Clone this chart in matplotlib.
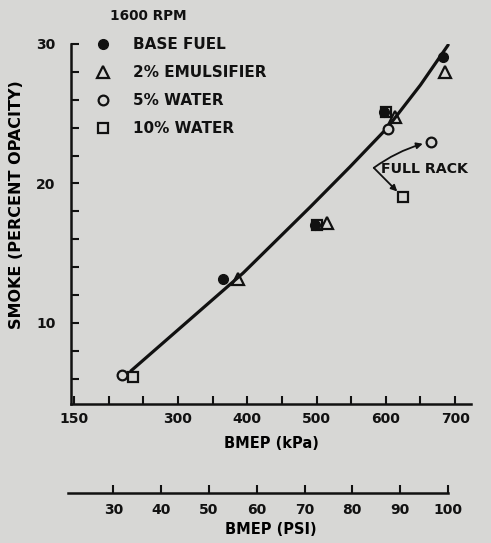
import matplotlib
matplotlib.use("Agg")
import matplotlib.pyplot as plt
from matplotlib.lines import Line2D

# --- data (BMEP in kPa, smoke in % opacity) ---
base_kpa = [365, 498, 598, 683]
base_smoke = [13.15, 17.0, 25.1, 29.1]

emul_kpa = [387, 515, 613, 686]
emul_smoke = [13.15, 17.2, 24.8, 28.0]

water5_kpa = [219, 603, 665]
water5_smoke = [6.27, 23.9, 23.0]

water10_kpa = [235, 500, 600, 625]
water10_smoke = [6.13, 17.0, 25.1, 19.0]

# faired curve through the data
curve_kpa = [232, 394, 491, 548, 602, 650, 690]
curve_smoke = [6.56, 13.58, 18.32, 21.18, 23.98, 27.06, 29.93]

# full rack points (circle, square) the arrows point to
rack_kpa = [665, 625]
rack_smoke = [23.0, 19.0]

kpa_ticks = [150, 200, 250, 300, 350, 400, 450, 500, 550, 600, 650, 700]
kpa_labels = ["150", "", "", "300", "", "400", "", "500", "", "600", "", "700"]
psi_ticks = [30, 40, 50, 60, 70, 80, 90, 100]
smoke_major = [10, 20, 30]
smoke_minor = [6, 8, 12, 14, 16, 18, 22, 24, 26, 28]

KPA_PER_PSI = 6.895
BG = "#d7d7d5"
INK = "#111111"

plt.rcParams['font.family'] = ['DejaVu Sans']
plt.rcParams['font.weight'] = 'bold'
plt.rcParams['text.color'] = INK

fig = plt.figure(figsize=(4.91, 5.43), dpi=100, facecolor=BG)
ax = fig.add_axes([0.1446, 0.256, 0.8147, 0.663])
ax.set_facecolor(BG)
ax.set_xlim(145.5, 723)
ax.set_ylim(4.19, 30)

for s in ('top', 'right'):
    ax.spines[s].set_visible(False)
for s in ('left', 'bottom'):
    ax.spines[s].set_linewidth(1.8)
    ax.spines[s].set_color(INK)

ax.set_xticks(kpa_ticks)
ax.set_xticklabels(kpa_labels)
ax.set_yticks(smoke_major)
ax.set_yticks(smoke_minor, minor=True)
ax.tick_params(axis='both', which='both', direction='in', length=5.5,
               width=1.5, color=INK, labelsize=10, labelcolor=INK)
ax.tick_params(axis='x', pad=6)
ax.tick_params(axis='y', which='both', pad=11)

ax.set_xlabel("BMEP (kPa)", fontsize=10.5, fontweight='bold', labelpad=7)
ax.set_ylabel("SMOKE (PERCENT OPACITY)", fontsize=11.5, fontweight='bold')
ax.yaxis.set_label_coords(-0.118, 0.553)

# curve and points
ax.plot(curve_kpa, curve_smoke, color=INK, lw=2.3, zorder=2,
        solid_joinstyle='round', solid_capstyle='round')
ms = 7.5
mew = 1.6
ax.plot(water10_kpa, water10_smoke, 's', ms=ms, mfc=BG, mec=INK, mew=mew, zorder=3)
ax.plot(base_kpa, base_smoke, 'o', ms=7, mfc=INK, mec=INK, zorder=4)
ax.plot(emul_kpa, emul_smoke, '^', ms=8.5, mfc='none', mec=INK, mew=mew, zorder=3)
ax.plot(water5_kpa, water5_smoke, 'o', ms=7, mfc=BG, mec=INK, mew=mew, zorder=3)

# full rack annotation
ax.text(0.775, 0.652, "FULL RACK", transform=ax.transAxes, fontsize=10.2,
        fontweight='bold', va='center', ha='left')
for (rx, ry), rad in zip(zip(rack_kpa, rack_smoke), (-0.1, 0.0)):
    ax.annotate("", xy=(rx, ry), xycoords='data',
                xytext=(0.757, 0.656), textcoords='axes fraction',
                arrowprops=dict(arrowstyle='-|>', color=INK, lw=1.3,
                                mutation_scale=9, shrinkA=0, shrinkB=6,
                                connectionstyle="arc3,rad=%s" % rad))

# legend
handles = [
    Line2D([], [], ls='none', marker='o', ms=7, mfc=INK, mec=INK),
    Line2D([], [], ls='none', marker='^', ms=8.5, mfc='none', mec=INK, mew=mew),
    Line2D([], [], ls='none', marker='o', ms=7, mfc='none', mec=INK, mew=mew),
    Line2D([], [], ls='none', marker='s', ms=7.5, mfc='none', mec=INK, mew=mew),
]
labels = ["BASE FUEL", "2% EMULSIFIER", "5% WATER", "10% WATER"]
fig.text(110 / 491, 1 - 16 / 543, "1600 RPM", fontsize=9.8, fontweight='bold',
         ha='left', va='center')
leg = fig.legend(handles, labels, loc='upper left',
                 bbox_to_anchor=(0.178, 0.946), frameon=False, fontsize=11,
                 handlelength=1.0, handletextpad=1.46,
                 labelspacing=0.85, borderpad=0)
for t in leg.get_texts():
    t.set_fontweight('bold')

# second scale in PSI
ax2 = fig.add_axes([0.1446, 0.0921, 0.8147, 0.05])
ax2.patch.set_visible(False)
ax2.set_xlim(ax.get_xlim())
for s in ('top', 'right', 'left'):
    ax2.spines[s].set_visible(False)
ax2.spines['bottom'].set_linewidth(1.8)
ax2.spines['bottom'].set_color(INK)
ax2.spines['bottom'].set_bounds(141, psi_ticks[-1] * KPA_PER_PSI)
ax2.set_yticks([])
ax2.set_xticks([p * KPA_PER_PSI for p in psi_ticks])
ax2.set_xticklabels([str(p) for p in psi_ticks])
ax2.tick_params(axis='x', direction='in', length=5.5, width=1.5, color=INK,
                labelsize=10, labelcolor=INK, pad=7)
ax2.set_xlabel("BMEP (PSI)", fontsize=10.5, fontweight='bold', labelpad=4)

fig.savefig("out.png", dpi=100, facecolor=BG)
